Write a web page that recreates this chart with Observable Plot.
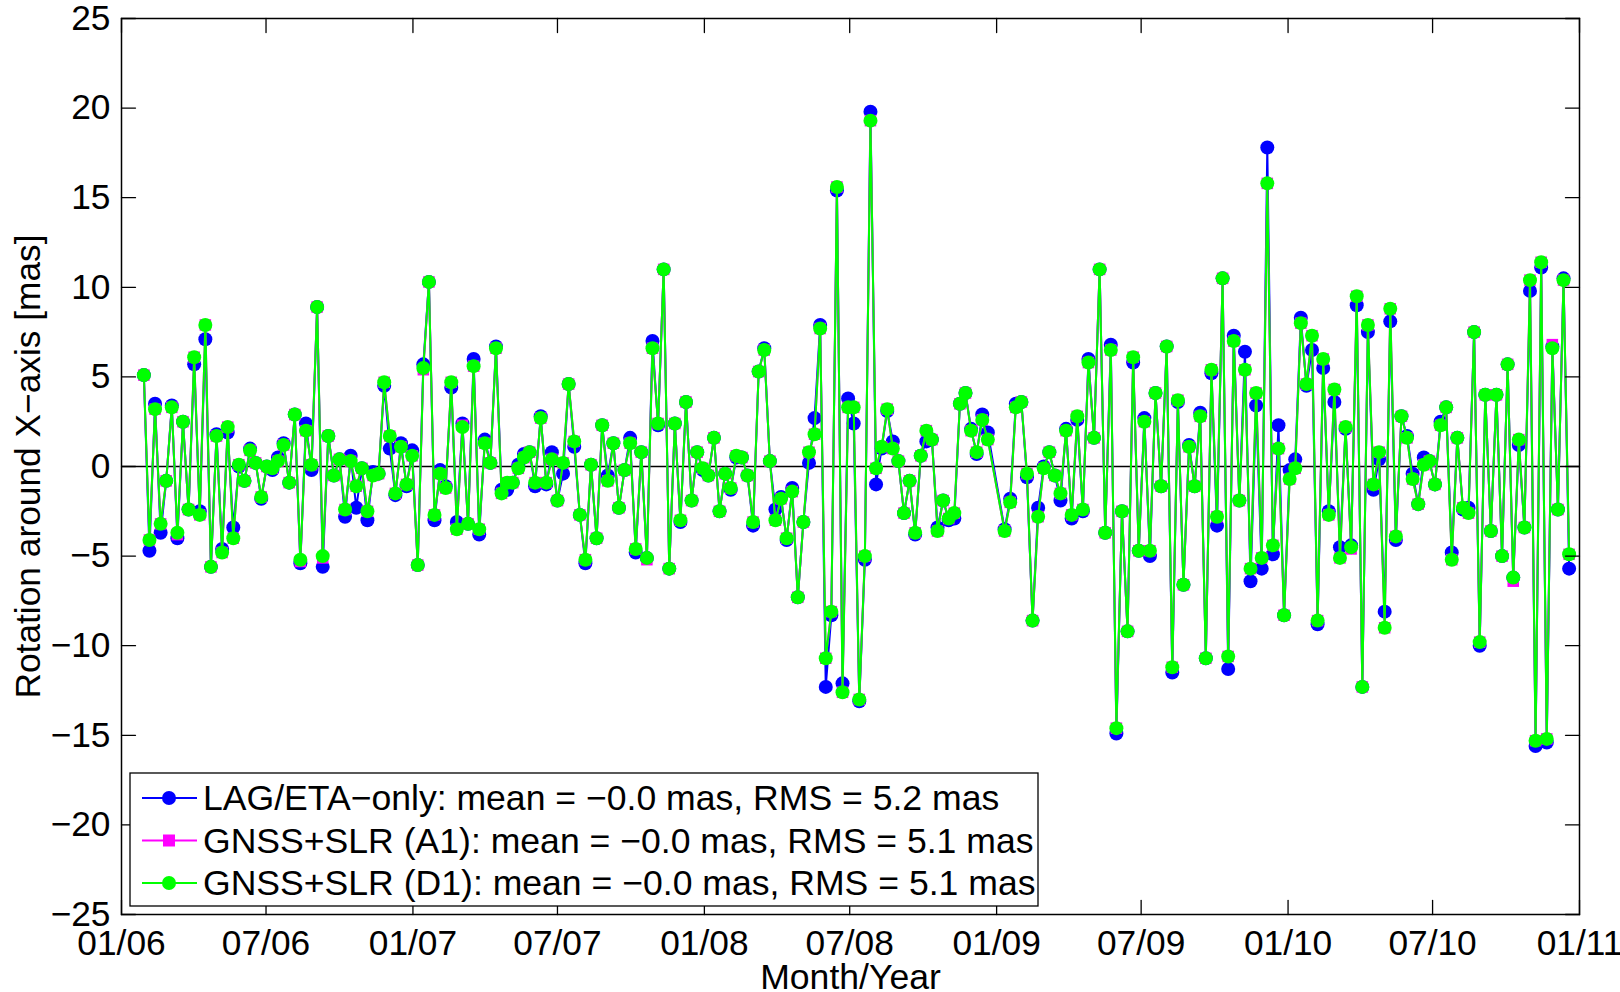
<!DOCTYPE html>
<html><head><meta charset="utf-8">
<script src="https://cdn.jsdelivr.net/npm/d3@7"></script>
<script src="https://cdn.jsdelivr.net/npm/@observablehq/plot@0.6"></script>
<style>
html,body{margin:0;padding:0;background:#fff;}
#chart{width:1620px;height:992px;overflow:hidden;}
</style></head><body><div id="chart"></div>
<script>
// ---- data ----
const startDate = "2006-01-29";   // first weekly solution
const pointsBeforeGap = 152;       // two weekly solutions missing after this point
const missingWeeks = 2;

const lagEta = [
 5.1,-4.7,3.5,-3.7,-0.8,3.4,-4.0,2.5,-2.4,5.7,
 -2.5,7.1,-5.6,1.8,-4.6,1.9,-3.4,0.0,-0.8,1.0,
 0.2,-1.8,0.0,-0.2,0.5,1.3,-0.9,2.9,-5.4,2.4,
 -0.2,8.9,-5.6,1.7,-0.5,0.4,-2.8,0.6,-2.3,-0.1,
 -3.0,-0.3,-0.4,4.5,1.0,-1.6,1.3,-1.1,0.9,-5.5,
 5.7,10.3,-3.0,-0.2,-1.1,4.4,-3.1,2.4,-3.2,6.0,
 -3.8,1.5,0.2,6.7,-1.3,-1.3,-0.9,0.1,0.7,0.8,
 -1.1,2.8,-1.0,0.8,-1.9,-0.4,4.6,1.1,-2.7,-5.4,
 0.1,-4.0,2.3,-0.5,1.3,-2.3,-0.2,1.6,-4.8,0.8,
 -5.1,7.0,2.3,11.0,-5.7,2.4,-3.1,3.6,-1.9,0.8,
 -0.2,-0.5,1.6,-2.5,-0.4,-1.3,0.5,0.5,-0.5,-3.3,
 5.3,6.6,0.3,-2.4,-1.7,-4.1,-1.2,-7.3,-3.1,0.2,
 2.7,7.9,-12.3,-8.3,15.4,-12.1,3.8,2.4,-13.1,-5.2,
 19.8,-1.0,1.0,3.1,1.4,0.3,-2.6,-0.8,-3.8,0.6,
 1.4,1.5,-3.4,-1.9,-3.0,-2.9,3.5,4.1,2.1,0.7,
 2.9,1.9,
 -3.5,-1.8,3.5,3.6,-0.6,-8.6,-2.3,0.0,
 0.8,-0.5,-1.9,2.1,-2.9,2.6,-2.5,6.0,1.6,11.0,
 -3.7,6.8,-14.9,-2.5,-9.2,5.8,-4.7,2.7,-5.0,4.1,
 -1.1,6.7,-11.5,3.6,-6.6,1.2,-1.1,3.0,-10.7,5.2,
 -3.3,10.5,-11.3,7.3,-1.9,6.4,-6.4,3.4,-5.7,17.8,
 -4.9,2.3,-8.3,-0.2,0.4,8.3,4.5,6.5,-8.8,5.5,
 -2.5,3.6,-4.5,2.1,-4.4,9.0,-12.3,7.5,-1.3,0.4,
 -8.1,8.1,-4.1,2.8,1.7,-0.4,-2.1,0.5,0.3,-1.0,
 2.5,3.3,-4.8,1.6,-2.4,-2.3,7.5,-10.0,4.0,-3.6,
 4.0,-5.0,5.7,-6.2,1.2,-3.4,9.8,-15.6,11.1,-15.4,
 6.7,-2.4,10.5,-5.7
];

const gnssA1 = [
 5.1,-4.1,3.2,-3.2,-0.8,3.3,-3.8,2.5,-2.4,6.1,
 -2.7,7.9,-5.6,1.7,-4.8,2.2,-4.0,0.1,-0.8,0.9,
 0.2,-1.7,0.0,-0.1,0.3,1.2,-0.9,2.9,-5.3,2.0,
 0.1,8.9,-5.1,1.7,-0.5,0.4,-2.4,0.3,-1.1,-0.1,
 -2.5,-0.5,-0.4,4.7,1.7,-1.5,1.1,-1.0,0.6,-5.5,
 5.4,10.3,-2.7,-0.4,-1.2,4.7,-3.5,2.3,-3.2,5.6,
 -3.5,1.3,0.2,6.6,-1.5,-0.9,-0.9,-0.1,0.5,0.8,
 -0.9,2.7,-0.9,0.4,-1.9,0.2,4.6,1.4,-2.7,-5.2,
 0.1,-4.0,2.3,-0.8,1.3,-2.3,-0.2,1.3,-4.6,0.8,
 -5.2,6.6,2.4,11.0,-5.7,2.4,-3.0,3.6,-1.9,0.8,
 -0.1,-0.5,1.6,-2.5,-0.4,-1.2,0.6,0.5,-0.5,-3.1,
 5.3,6.5,0.3,-3.0,-1.8,-4.0,-1.4,-7.3,-3.1,0.8,
 1.8,7.7,-10.7,-8.1,15.6,-12.6,3.3,3.3,-13.0,-5.0,
 19.3,-0.1,1.1,3.2,1.0,0.3,-2.6,-0.8,-3.7,0.6,
 2.0,1.5,-3.6,-1.9,-2.9,-2.6,3.5,4.1,2.0,0.8,
 2.6,1.5,
 -3.6,-2.0,3.3,3.6,-0.4,-8.6,-2.8,-0.1,
 0.8,-0.5,-1.5,2.0,-2.7,2.8,-2.4,5.8,1.6,11.0,
 -3.7,6.5,-14.6,-2.5,-9.2,6.1,-4.7,2.5,-4.7,4.1,
 -1.1,6.7,-11.2,3.7,-6.6,1.1,-1.1,2.8,-10.7,5.4,
 -2.8,10.5,-10.6,7.0,-1.9,5.4,-5.7,4.1,-5.1,15.8,
 -4.4,1.0,-8.3,-0.7,-0.1,8.0,4.6,7.3,-8.6,6.0,
 -2.7,4.3,-5.1,2.2,-4.6,9.5,-12.3,7.9,-1.0,0.8,
 -9.0,8.8,-3.9,2.8,1.6,-0.7,-2.1,0.1,0.3,-1.0,
 2.3,3.3,-5.2,1.6,-2.3,-2.6,7.5,-9.8,4.0,-3.6,
 4.0,-5.0,5.7,-6.4,1.5,-3.4,10.4,-15.3,11.4,-15.2,
 6.8,-2.4,10.4,-4.9
];

const gnssD1 = [
 5.1,-4.1,3.2,-3.2,-0.8,3.3,-3.7,2.5,-2.4,6.1,
 -2.7,7.9,-5.6,1.7,-4.8,2.2,-4.0,0.1,-0.8,0.9,
 0.2,-1.7,0.0,-0.1,0.3,1.2,-0.9,2.9,-5.2,2.0,
 0.1,8.9,-5.0,1.7,-0.5,0.4,-2.4,0.3,-1.1,-0.1,
 -2.5,-0.5,-0.4,4.7,1.7,-1.5,1.1,-1.0,0.6,-5.5,
 5.5,10.3,-2.7,-0.4,-1.2,4.7,-3.5,2.2,-3.2,5.6,
 -3.5,1.3,0.2,6.6,-1.5,-0.9,-0.9,-0.1,0.5,0.8,
 -0.9,2.7,-0.9,0.4,-1.9,0.2,4.6,1.4,-2.7,-5.2,
 0.1,-4.0,2.3,-0.8,1.3,-2.3,-0.2,1.3,-4.6,0.8,
 -5.1,6.6,2.4,11.0,-5.7,2.4,-3.0,3.6,-1.9,0.8,
 -0.1,-0.5,1.6,-2.5,-0.4,-1.2,0.6,0.5,-0.5,-3.1,
 5.3,6.5,0.3,-3.0,-1.8,-4.0,-1.4,-7.3,-3.1,0.8,
 1.8,7.7,-10.7,-8.1,15.6,-12.6,3.3,3.3,-13.0,-5.0,
 19.3,-0.1,1.1,3.2,1.0,0.3,-2.6,-0.8,-3.7,0.6,
 2.0,1.5,-3.6,-1.9,-2.9,-2.6,3.5,4.1,2.0,0.8,
 2.6,1.5,
 -3.6,-2.0,3.3,3.6,-0.4,-8.6,-2.8,-0.1,
 0.8,-0.5,-1.5,2.0,-2.7,2.8,-2.4,5.8,1.6,11.0,
 -3.7,6.5,-14.6,-2.5,-9.2,6.1,-4.7,2.5,-4.7,4.1,
 -1.1,6.7,-11.2,3.7,-6.6,1.1,-1.1,2.8,-10.7,5.4,
 -2.8,10.5,-10.6,7.0,-1.9,5.4,-5.7,4.1,-5.1,15.8,
 -4.4,1.0,-8.3,-0.7,-0.1,8.0,4.6,7.3,-8.6,6.0,
 -2.7,4.3,-5.1,2.2,-4.5,9.5,-12.3,7.9,-1.0,0.8,
 -9.0,8.8,-3.9,2.8,1.6,-0.7,-2.1,0.1,0.3,-1.0,
 2.3,3.3,-5.2,1.6,-2.3,-2.6,7.5,-9.8,4.0,-3.6,
 4.0,-5.0,5.7,-6.2,1.5,-3.4,10.4,-15.3,11.4,-15.2,
 6.6,-2.4,10.4,-4.9
];

const legendLabels = [
  "LAG/ETA\u2212only: mean = \u22120.0 mas, RMS = 5.2 mas",
  "GNSS+SLR (A1): mean = \u22120.0 mas, RMS = 5.1 mas",
  "GNSS+SLR (D1): mean = \u22120.0 mas, RMS = 5.1 mas"
];
const xTickDates = ["2006-01-01","2006-07-01","2007-01-01","2007-07-01","2008-01-01","2008-07-01",
  "2009-01-01","2009-07-01","2010-01-01","2010-07-01","2011-01-01"];
const yTickValues = [-25,-20,-15,-10,-5,0,5,10,15,20,25];
const xLabel = "Month/Year";
const yLabel = "Rotation around X\u2212axis [mas]";

// ---- build ----
const t0 = new Date(startDate + "T00:00:00Z");
const dateAt = i => d3.utcDay.offset(t0, 7 * (i + (i >= pointsBeforeGap ? missingWeeks : 0)));
const rows = vals => vals.map((v, i) => ({date: dateAt(i), value: v}));
const lagRows = rows(lagEta), a1Rows = rows(gnssA1), d1Rows = rows(gnssD1);
const xTicks = xTickDates.map(s => new Date(s + "T00:00:00Z"));

const colors = ["#0000ff", "#ff00ff", "#00ff00"];
const font = "'Liberation Sans', Arial, Helvetica, sans-serif";
const FS = 35.3;
const tickLine = {draw(ctx, l) { ctx.moveTo(0, 0); ctx.lineTo(0, -l); }};
const tickOpts = {length: 14, anchor: "start", shape: tickLine, stroke: "#000", strokeWidth: 1.3};
const R = 7;

const chart = Plot.plot({
  width: 1620, height: 992,
  marginLeft: 121, marginRight: 41, marginTop: 18, marginBottom: 78,
  style: {fontFamily: font, fontSize: FS + "px", background: "white", overflow: "visible", color: "#000"},
  x: {type: "utc", domain: [xTicks[0], xTicks[xTicks.length - 1]]},
  y: {domain: [-25, 25]},
  marks: [
    Plot.ruleY([0], {stroke: "#000", strokeWidth: 1.3}),
    Plot.line(lagRows, {x: "date", y: "value", stroke: colors[0], strokeWidth: 2}),
    Plot.dot(lagRows, {x: "date", y: "value", r: R, fill: colors[0], stroke: "none"}),
    Plot.line(a1Rows, {x: "date", y: "value", stroke: colors[1], strokeWidth: 2}),
    Plot.dot(a1Rows, {x: "date", y: "value", r: R - 0.5, symbol: "square", fill: colors[1], stroke: "none"}),
    Plot.line(d1Rows, {x: "date", y: "value", stroke: colors[2], strokeWidth: 2}),
    Plot.dot(d1Rows, {x: "date", y: "value", r: R, fill: colors[2], stroke: "none"}),
    // inward ticks on all four sides
    Plot.vector(xTicks, {x: d => d, frameAnchor: "bottom", rotate: 0, ...tickOpts}),
    Plot.vector(xTicks, {x: d => d, frameAnchor: "top", rotate: 180, ...tickOpts}),
    Plot.vector(yTickValues, {y: d => d, frameAnchor: "left", rotate: 90, ...tickOpts}),
    Plot.vector(yTickValues, {y: d => d, frameAnchor: "right", rotate: -90, ...tickOpts}),
    Plot.axisX({ticks: xTicks, tickSize: 0, tickPadding: 15, tickFormat: d3.utcFormat("%m/%y"), label: null, fontSize: FS}),
    Plot.axisY({ticks: yTickValues, tickSize: 0, tickPadding: 11, tickFormat: d3.format("d"), label: null, fontSize: FS}),
    Plot.text([xLabel], {frameAnchor: "bottom", dy: 74, fontSize: FS + 0.3, fill: "#000", textAnchor: "middle"}),
    Plot.text([yLabel], {frameAnchor: "left", dx: -93, rotate: -90, fontSize: FS, fill: "#000", textAnchor: "middle"}),
    Plot.frame({stroke: "#000", strokeWidth: 1.5})
  ]
});
document.getElementById("chart").appendChild(chart);

// ---- legend (inside plot, lower left) ----
const svg = d3.select(chart);
const lg = svg.append("g").attr("font-family", font).attr("font-size", FS + 0.3).attr("text-anchor", "start");
lg.append("rect").attr("x", 130).attr("y", 773).attr("width", 908).attr("height", 133)
  .attr("fill", "white").attr("stroke", "#000").attr("stroke-width", 1.3);
legendLabels.forEach((label, i) => {
  const cy = 798 + i * 42.5;
  lg.append("line").attr("x1", 142).attr("x2", 197).attr("y1", cy).attr("y2", cy)
    .attr("stroke", colors[i]).attr("stroke-width", 2);
  if (i === 1) {
    lg.append("rect").attr("x", 169 - 6).attr("y", cy - 6).attr("width", 12).attr("height", 12).attr("fill", colors[i]);
  } else {
    lg.append("circle").attr("cx", 169).attr("cy", cy).attr("r", R).attr("fill", colors[i]);
  }
  lg.append("text").attr("x", 203).attr("y", cy).attr("dy", "0.35em").attr("fill", "#000")
    .attr("text-anchor", "start").text(label);
});
</script></body></html>
